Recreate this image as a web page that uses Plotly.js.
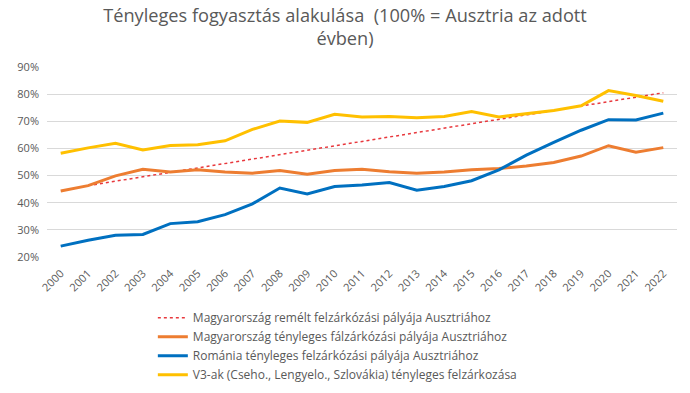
<!DOCTYPE html>
<html>
<head>
<meta charset="utf-8">
<script src="https://cdn.plot.ly/plotly-3.0.1.min.js"></script>
<style>
html,body{margin:0;padding:0;background:#fff;}
#chart{width:690px;height:393px;}
</style>
</head>
<body>
<div id="chart"></div>
<script>
const years = ["2000","2001","2002","2003","2004","2005","2006","2007","2008","2009","2010","2011","2012","2013","2014","2015","2016","2017","2018","2019","2020","2021","2022"];
const hopedYears = ["2001","2022"];
const huHoped = [46.3, 80.5];
const huActual = [44.3,46.3,49.9,52.3,51.3,52.1,51.3,50.9,51.9,50.5,51.9,52.3,51.4,50.9,51.3,52.1,52.6,53.5,54.8,57.2,61.0,58.6,60.3];
const romania = [24.0,26.2,28.0,28.3,32.3,33.0,35.6,39.6,45.4,43.2,46.0,46.5,47.4,44.6,46.0,48.1,52.1,57.5,62.2,66.7,70.6,70.5,73.0];
const v3 = [58.2,60.2,61.9,59.4,61.1,61.4,62.8,67.0,70.1,69.6,72.6,71.6,71.8,71.3,71.8,73.6,71.6,72.8,74.0,75.7,81.3,79.5,77.4];
const seriesNames = [
  "Magyarország remélt felzárkózási pályája Ausztriához",
  "Magyarország tényleges fálzárkózási pályája Ausztriához",
  "Románia tényleges felzárkózási pályája Ausztriához",
  "V3-ak (Cseho., Lengyelo., Szlovákia) tényleges felzárkozása"
];
const yTicks = [20,30,40,50,60,70,80,90];
const yTickText = yTicks.map(v => v + "%");

const font = "Open Sans, Noto Sans, sans-serif";
const gray = "#595959";

const traces = [
  {x: hopedYears, y: huHoped, name: seriesNames[0], type: "scatter", mode: "lines",
   line: {color: "#E8383D", width: 1.5, dash: "dot"}},
  {x: years, y: huActual, name: seriesNames[1], type: "scatter", mode: "lines",
   line: {color: "#ED7D31", width: 3}},
  {x: years, y: romania, name: seriesNames[2], type: "scatter", mode: "lines",
   line: {color: "#0070C0", width: 3}},
  {x: years, y: v3, name: seriesNames[3], type: "scatter", mode: "lines",
   line: {color: "#FFC000", width: 3}}
];

const layout = {
  width: 690, height: 393,
  margin: {l: 47, r: 13, t: 67, b: 136, autoexpand: false},
  paper_bgcolor: "#fff", plot_bgcolor: "#fff",
  title: {text: "Tényleges fogyasztás alakulása  (100% = Ausztria az adott<br>évben)",
          font: {family: font, size: 18.2, color: gray},
          x: 0.5, xanchor: "center", y: 0.945, yanchor: "middle", xref: "container", yref: "container"},
  xaxis: {type: "category", categoryorder: "array", categoryarray: years,
          range: [-0.5, 22.5], tickangle: -45, showgrid: false, zeroline: false,
          showline: false, ticks: "", tickfont: {family: font, size: 11, color: gray},
          ticklabelstandoff: 7},
  yaxis: {range: [20, 90], tickvals: yTicks, ticktext: yTickText, showgrid: true,
          gridcolor: "#D9D9D9", gridwidth: 1, zeroline: false, showline: false,
          tickfont: {family: font, size: 11, color: gray}, ticklabelstandoff: 7},
  showlegend: true,
  legend: {orientation: "v", x: 0.168, xanchor: "left",
           y: -0.243, yanchor: "top", font: {family: font, size: 12, color: gray},
           itemwidth: 30, tracegroupgap: 0, bgcolor: "rgba(0,0,0,0)"},
  hovermode: false
};

Plotly.newPlot("chart", traces, layout, {displayModeBar: false, staticPlot: true});
</script>
</body>
</html>
